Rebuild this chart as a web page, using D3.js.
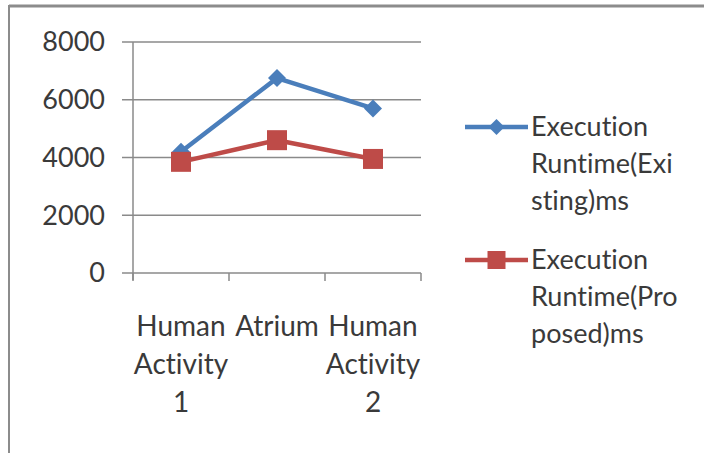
<!DOCTYPE html>
<html>
<head>
<meta charset="utf-8">
<script src="https://cdn.jsdelivr.net/npm/d3@7"></script>
<style>
  html, body { margin: 0; padding: 0; background: #fff; }
  svg { display: block; }
  text { font-family: Lato, "Open Sans", sans-serif; fill: #3a3a3a; font-variant-ligatures: none; font-feature-settings: "liga" 0, "clig" 0; }
</style>
</head>
<body>
<svg id="chart" width="704" height="453"></svg>
<script>
// Categories and series values
const categories = ["Human Activity 1", "Atrium", "Human Activity 2"];
const seriesNames = ["Execution Runtime(Existing)ms", "Execution Runtime(Proposed)ms"];
const existing = [4200, 6750, 5700];
const proposed = [3850, 4600, 3950];
const yTicks = [0, 2000, 4000, 6000, 8000];

const colors = ["#4a7ebb", "#be4b48"];
const series = [
  { name: seriesNames[0], values: existing, color: colors[0], marker: "diamond" },
  { name: seriesNames[1], values: proposed, color: colors[1], marker: "square" }
];

const svg = d3.select("#chart");
const W = 704, H = 453;
const fontSize = 27;

// Outer frame (top and left edges)
svg.append("line").attr("x1", 9).attr("x2", W).attr("y1", 6).attr("y2", 6)
  .attr("stroke", "#8c8c8c").attr("stroke-width", 3);
svg.append("line").attr("x1", 9).attr("x2", 9).attr("y1", 5).attr("y2", H)
  .attr("stroke", "#8c8c8c").attr("stroke-width", 2);

const plot = { left: 133, right: 421, top: 42, bottom: 273 };

const x = d3.scaleBand().domain(categories).range([plot.left, plot.right]).padding(0);
const y = d3.scaleLinear().domain([0, 8000]).range([plot.bottom, plot.top]);

// Horizontal gridlines with left tick stubs
const grid = svg.append("g");
grid.selectAll("line").data(yTicks).join("line")
  .attr("x1", plot.left - 11).attr("x2", plot.right)
  .attr("y1", d => y(d)).attr("y2", d => y(d))
  .attr("stroke", "#8a8a8a").attr("stroke-width", 1.5);

// Vertical axis line
svg.append("line").attr("x1", plot.left).attr("x2", plot.left)
  .attr("y1", plot.top).attr("y2", plot.bottom + 7)
  .attr("stroke", "#8a8a8a").attr("stroke-width", 1.5);

// Category boundary ticks below the baseline
const bounds = categories.map(c => x(c)).concat([x(categories[categories.length - 1]) + x.bandwidth()]);
svg.append("g").selectAll("line").data(bounds).join("line")
  .attr("x1", d => d).attr("x2", d => d)
  .attr("y1", plot.bottom).attr("y2", plot.bottom + 8)
  .attr("stroke", "#8a8a8a").attr("stroke-width", 1.5);

// Y tick labels
svg.append("g").selectAll("text").data(yTicks).join("text")
  .attr("x", 105).attr("y", d => y(d))
  .attr("dy", "0.35em").attr("text-anchor", "end")
  .attr("font-size", fontSize)
  .text(d => d);

// Category labels, one word per line
const catG = svg.append("g");
categories.forEach(c => {
  const t = catG.append("text")
    .attr("x", x(c) + x.bandwidth() / 2).attr("y", 326)
    .attr("text-anchor", "middle").attr("font-size", fontSize + 1);
  c.split(" ").forEach((w, i) => {
    t.append("tspan").attr("x", x(c) + x.bandwidth() / 2)
      .attr("dy", i === 0 ? "0.35em" : 38).text(w);
  });
});

// Series lines and markers
const line = d3.line()
  .x((d, i) => x(categories[i]) + x.bandwidth() / 2)
  .y(d => y(d));

const diamond = s => `M0,${-s}L${s},0L0,${s}L${-s},0Z`;
const square = s => `M${-s},${-s}H${s}V${s}H${-s}Z`;

series.forEach(s => {
  svg.append("path").datum(s.values)
    .attr("d", line).attr("fill", "none")
    .attr("stroke", s.color).attr("stroke-width", 4.5)
    .attr("stroke-linejoin", "round");
  svg.append("g").selectAll("path").data(s.values).join("path")
    .attr("transform", (d, i) => `translate(${x(categories[i]) + x.bandwidth() / 2},${y(d)})`)
    .attr("d", s.marker === "diamond" ? diamond(9) : square(10))
    .attr("fill", s.color);
});

// Legend with text wrapped into short lines
const wrap = (name) => {
  const [first, rest] = [name.slice(0, name.indexOf(" ")), name.slice(name.indexOf(" ") + 1)];
  const out = [first];
  for (let i = 0; i < rest.length; i += 11) out.push(rest.slice(i, i + 11));
  return out;
};
const legendY = [127, 260];
series.forEach((s, k) => {
  const ly = legendY[k];
  svg.append("line").attr("x1", 465).attr("x2", 528).attr("y1", ly).attr("y2", ly)
    .attr("stroke", s.color).attr("stroke-width", 4.5);
  svg.append("path").attr("transform", `translate(496.5,${ly})`)
    .attr("d", s.marker === "diamond" ? diamond(8) : square(9)).attr("fill", s.color);
  const t = svg.append("text").attr("x", 531).attr("y", ly).attr("font-size", fontSize);
  wrap(s.name).forEach((w, i) => {
    t.append("tspan").attr("x", 531).attr("dy", i === 0 ? "0.35em" : 37).text(w);
  });
});
</script>
</body>
</html>
